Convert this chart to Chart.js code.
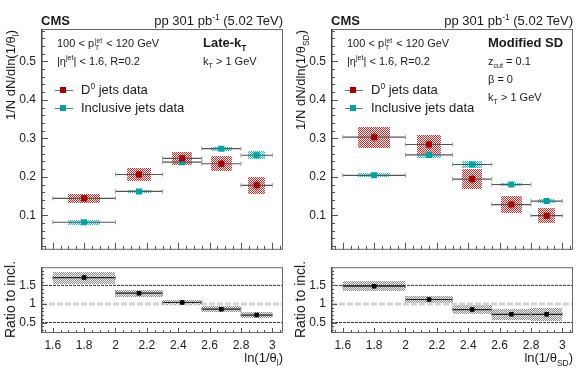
<!DOCTYPE html>
<html>
<head>
<meta charset="utf-8">
<script src="https://cdn.jsdelivr.net/npm/chart.js@4.4.0/dist/chart.umd.min.js"></script>
<style>
body{margin:0;background:#fff;width:580px;height:373px;position:relative;overflow:hidden;font-family:"Liberation Sans",Arial,sans-serif;color:#1a1a1a}
canvas{position:absolute}
.t{position:absolute;white-space:nowrap;line-height:1}
.b{font-weight:bold}
.ss{display:inline-block;vertical-align:-0.45em;font-size:62%;line-height:1.05;text-align:left;margin:0 1px}
.ss span{display:block}
sub,sup{font-size:65%;line-height:0}
.rot{transform-origin:0 0;transform:rotate(-90deg) translateX(-100%)}
.lm{position:absolute;width:6px;height:6px}
.ll{position:absolute;height:1px;width:18px;background:#777}
</style>
</head>
<body>
<canvas id="tl" width="290" height="262" style="left:0;top:0"></canvas>
<canvas id="bl" width="290" height="118" style="left:0;top:255px"></canvas>
<canvas id="tr" width="290" height="262" style="left:290px;top:0"></canvas>
<canvas id="br" width="290" height="118" style="left:290px;top:255px"></canvas>

<!-- left panel text -->
<div class="t b" style="left:41px;top:14px;font-size:13px">CMS</div>
<div class="t" style="right:297px;top:14px;font-size:13px">pp 301 pb<sup>-1</sup> (5.02 TeV)</div>
<div class="t" style="left:57px;top:37px;font-size:11px">100 &lt; p<span class="ss"><span>jet</span><span>T</span></span> &lt; 120 GeV</div>
<div class="t" style="left:57px;top:56px;font-size:11px">|η<sup>jet</sup>| &lt; 1.6, R=0.2</div>
<div class="t b" style="left:203px;top:36px;font-size:13px">Late-k<sub>T</sub></div>
<div class="t" style="left:203px;top:56px;font-size:11px">k<sub>T</sub> &gt; 1 GeV</div>
<div class="ll" style="left:55px;top:90px"></div><div class="lm" style="left:60px;top:87px;background:#a80000"></div>
<div class="t" style="left:81px;top:83px;font-size:13px">D<sup>0</sup> jets data</div>
<div class="ll" style="left:55px;top:108px"></div><div class="lm" style="left:60px;top:105px;background:#00a3a3"></div>
<div class="t" style="left:81px;top:101px;font-size:13px">Inclusive jets data</div>
<div class="t rot" style="left:4px;top:30px;font-size:13px">1/N dN/dln(1/θ<sub>l</sub>)</div>
<div class="t rot" style="left:3px;top:261px;font-size:14px">Ratio to incl.</div>
<div class="t" style="right:297px;top:351px;font-size:13px">ln(1/θ<sub>l</sub>)</div>

<!-- right panel text -->
<div class="t b" style="left:331px;top:14px;font-size:13px">CMS</div>
<div class="t" style="right:7px;top:14px;font-size:13px">pp 301 pb<sup>-1</sup> (5.02 TeV)</div>
<div class="t" style="left:347px;top:37px;font-size:11px">100 &lt; p<span class="ss"><span>jet</span><span>T</span></span> &lt; 120 GeV</div>
<div class="t" style="left:347px;top:56px;font-size:11px">|η<sup>jet</sup>| &lt; 1.6, R=0.2</div>
<div class="t b" style="left:488px;top:36px;font-size:13px">Modified SD</div>
<div class="t" style="left:488px;top:56px;font-size:11px">z<sub>cut</sub> = 0.1</div>
<div class="t" style="left:488px;top:74px;font-size:11px">β = 0</div>
<div class="t" style="left:488px;top:92px;font-size:11px">k<sub>T</sub> &gt; 1 GeV</div>
<div class="ll" style="left:345px;top:90px"></div><div class="lm" style="left:350px;top:87px;background:#a80000"></div>
<div class="t" style="left:371px;top:83px;font-size:13px">D<sup>0</sup> jets data</div>
<div class="ll" style="left:345px;top:108px"></div><div class="lm" style="left:350px;top:105px;background:#00a3a3"></div>
<div class="t" style="left:371px;top:101px;font-size:13px">Inclusive jets data</div>
<div class="t rot" style="left:294px;top:30px;font-size:13px">1/N dN/dln(1/θ<sub>SD</sub>)</div>
<div class="t rot" style="left:293px;top:261px;font-size:14px">Ratio to incl.</div>
<div class="t" style="right:7px;top:351px;font-size:13px">ln(1/θ<sub>SD</sub>)</div>

<script>
// binning in ln(1/theta)
const binEdges = [1.6, 2.0, 2.3, 2.55, 2.8, 3.0];
const binCenters = [1.8, 2.15, 2.425, 2.675, 2.9];
const xTickValues = [1.6, 1.8, 2, 2.2, 2.4, 2.6, 2.8, 3];
const yTickValues = [0.1, 0.2, 0.3, 0.4, 0.5];
const ratioTickValues = [0.5, 1, 1.5];

// late-kT
const d0Late = [0.144, 0.206, 0.248, 0.234, 0.178];
const d0LateSyst = [0.012, 0.016, 0.017, 0.019, 0.022];
const d0LateStat = [0.006, 0.008, 0.009, 0.010, 0.011];
const inclLate = [0.082, 0.162, 0.238, 0.273, 0.256];
const inclLateSyst = [0.006, 0.005, 0.008, 0.005, 0.010];
const inclLateStat = [0.002, 0.002, 0.003, 0.003, 0.003];
const ratioLate = [1.71, 1.29, 1.04, 0.86, 0.70];
const ratioLateSyst = [0.16, 0.09, 0.07, 0.08, 0.09];
const ratioLateStat = [0.06, 0.05, 0.05, 0.05, 0.05];

// modified soft drop
const d0SD = [0.303, 0.284, 0.194, 0.128, 0.099];
const d0SDSyst = [0.027, 0.024, 0.026, 0.022, 0.020];
const d0SDStat = [0.012, 0.012, 0.012, 0.010, 0.008];
const inclSD = [0.204, 0.257, 0.232, 0.180, 0.137];
const inclSDSyst = [0.005, 0.007, 0.009, 0.004, 0.005];
const inclSDStat = [0.002, 0.003, 0.003, 0.002, 0.002];
const ratioSD = [1.48, 1.12, 0.85, 0.72, 0.72];
const ratioSDSyst = [0.14, 0.10, 0.12, 0.14, 0.17];
const ratioSDStat = [0.06, 0.05, 0.05, 0.05, 0.06];

const X_MIN = 1.525, X_MAX = 3.068;
const FONT = { family: '"Liberation Sans", Arial, sans-serif', size: 12 };

// checkerboard fill like ROOT's hatch style
function hatch(ctx, on, off) {
  const c = document.createElement('canvas');
  c.width = c.height = 2;
  const g = c.getContext('2d');
  g.fillStyle = off; g.fillRect(0, 0, 2, 2);
  g.fillStyle = on; g.fillRect(0, 0, 1, 1); g.fillRect(1, 1, 1, 1);
  return ctx.createPattern(c, 'repeat');
}

// syst. boxes, drawn under the datasets
const boxPlugin = {
  id: 'boxes',
  beforeDatasetsDraw(chart, args, opts) {
    const { ctx, scales: { x, y } } = chart;
    ctx.save();
    ctx.beginPath();
    ctx.rect(chart.chartArea.left, chart.chartArea.top, chart.chartArea.width, chart.chartArea.height);
    ctx.clip();
    for (const set of opts.sets || []) {
      ctx.fillStyle = hatch(ctx, set.line, set.bg);
      set.values.forEach((v, i) => {
        const w = (binEdges[i + 1] - binEdges[i]) * set.frac / 2;
        const x0 = Math.round(x.getPixelForValue(binCenters[i] - w));
        const x1 = Math.round(x.getPixelForValue(binCenters[i] + w));
        const y0 = Math.round(y.getPixelForValue(v + set.err[i]));
        const y1 = Math.round(y.getPixelForValue(v - set.err[i]));
        ctx.fillRect(x0, y0, x1 - x0, y1 - y0);
      });
    }
    ctx.restore();
  }
};

// frame and inward ticks, ROOT style
const framePlugin = {
  id: 'frame',
  afterDraw(chart, args, o) {
    const { ctx, chartArea: a, scales: { x, y } } = chart;
    ctx.save();
    ctx.strokeStyle = '#555';
    ctx.lineWidth = 1;
    ctx.beginPath();
    for (let v = Math.ceil(x.min / 0.05) * 0.05; v <= x.max; v += 0.05) {
      const px = Math.round(x.getPixelForValue(v)) + 0.5;
      const major = Math.abs(v * 5 - Math.round(v * 5)) < 1e-6;
      ctx.moveTo(px, a.bottom);
      ctx.lineTo(px, a.bottom - (major ? o.xMaj : o.xMin));
    }
    for (let v = Math.ceil(y.min / o.yStep) * o.yStep; v <= y.max; v += o.yStep) {
      const py = Math.round(y.getPixelForValue(v)) + 0.5;
      const major = Math.abs(v / o.yMajStep - Math.round(v / o.yMajStep)) < 1e-6;
      ctx.moveTo(a.left, py);
      ctx.lineTo(a.left + (major ? o.yMaj : o.yMin), py);
    }
    ctx.stroke();
    ctx.strokeStyle = '#666';
    ctx.strokeRect(a.left + 0.5, a.top + 0.5, a.width - 1, a.height - 1);
    ctx.fillStyle = '#444';
    ctx.fillRect(a.left, a.top, 1.5, a.height);
    ctx.restore();
  }
};

function xBars(vals, color) {
  const data = [];
  vals.forEach((v, i) => {
    data.push({ x: binEdges[i], y: v }, { x: binEdges[i + 1], y: v }, { x: binEdges[i + 1], y: null });
  });
  return { data, showLine: true, borderColor: color, borderWidth: 1.2, pointStyle: 'line', rotation: 90,
    pointRadius: 2, pointBorderColor: '#999', pointBorderWidth: 1, spanGaps: false };
}
function yBars(vals, errs, color) {
  const data = [];
  vals.forEach((v, i) => {
    data.push({ x: binCenters[i], y: v - errs[i] }, { x: binCenters[i], y: v + errs[i] }, { x: binCenters[i], y: null });
  });
  return { data, showLine: true, borderColor: color, borderWidth: 1.2, pointRadius: 0, spanGaps: false };
}
function markers(vals, color, r) {
  return { data: vals.map((v, i) => ({ x: binCenters[i], y: v })), showLine: false, pointStyle: 'rect',
    pointRadius: r, backgroundColor: color, borderColor: color, borderWidth: 0 };
}
function hline(v, color, width, dash) {
  return { data: [{ x: X_MIN, y: v }, { x: X_MAX, y: v }], showLine: true, borderColor: color,
    borderWidth: width, borderDash: dash, pointRadius: 0 };
}

function yScale(min, max, ticks) {
  return {
    type: 'linear', min, max,
    afterBuildTicks: s => { s.ticks = ticks.map(v => ({ value: v })); },
    afterFit: s => { s.width = 41; },
    ticks: { font: FONT, color: '#222', padding: 5, callback: v => String(v) },
    grid: { display: false, drawTicks: false },
    border: { display: false }
  };
}

function topChart(id, d0, d0Syst, d0Stat, incl, inclSyst, inclStat) {
  return new Chart(document.getElementById(id), {
    type: 'scatter',
    data: {
      datasets: [
        markers(d0, '#a80000', 4.3),
        markers(incl, '#00a3a3', 4.3),
        yBars(d0, d0Stat, '#555'),
        yBars(incl, inclStat, '#555'),
        xBars(d0, '#555'),
        xBars(incl, '#555')
      ]
    },
    options: {
      responsive: false, animation: false,
      layout: { padding: { left: 0, top: 29, right: 7, bottom: 9 } },
      scales: {
        x: { type: 'linear', min: X_MIN, max: X_MAX, display: false },
        y: yScale(0.0104, 0.584, yTickValues)
      },
      plugins: {
        legend: { display: false }, tooltip: { enabled: false },
        boxes: { sets: [
          { values: incl, err: inclSyst, frac: 0.52, line: '#22c2c2', bg: '#e6fafa' },
          { values: d0, err: d0Syst, frac: 0.52, line: '#cf3434', bg: '#fde8e8' }
        ] },
        frame: { xMaj: 7, xMin: 4, yStep: 0.02, yMajStep: 0.1, yMaj: 7, yMin: 4 }
      }
    },
    plugins: [boxPlugin, framePlugin]
  });
}

function ratioChart(id, r, rSyst, rStat) {
  return new Chart(document.getElementById(id), {
    type: 'scatter',
    data: {
      datasets: [
        markers(r, '#000', 3.2),
        yBars(r, rStat, '#222'),
        xBars(r, '#222'),
        hline(1.5, '#333', 1, [3, 1]),
        hline(0.5, '#333', 1, [3, 1]),
        hline(1, '#d4d4d4', 3, [6, 2])
      ]
    },
    options: {
      responsive: false, animation: false,
      layout: { padding: { left: 0, top: 7, right: 7, bottom: 0 } },
      scales: {
        x: {
          type: 'linear', min: X_MIN, max: X_MAX,
          afterBuildTicks: s => { s.ticks = xTickValues.map(v => ({ value: v })); },
          afterFit: s => { s.height = 40; },
          ticks: { font: FONT, color: '#222', padding: 5, maxRotation: 0, autoSkip: false, callback: v => String(v) },
          grid: { display: false, drawTicks: false },
          border: { display: false }
        },
        y: yScale(0.218, 1.99, ratioTickValues)
      },
      plugins: {
        legend: { display: false }, tooltip: { enabled: false },
        boxes: { sets: [ { values: r, err: rSyst, frac: 1, line: '#8a8a8a', bg: '#f2f2f2' } ] },
        frame: { xMaj: 5, xMin: 3, yStep: 0.1, yMajStep: 0.5, yMaj: 6, yMin: 3 }
      }
    },
    plugins: [boxPlugin, framePlugin]
  });
}

topChart('tl', d0Late, d0LateSyst, d0LateStat, inclLate, inclLateSyst, inclLateStat);
ratioChart('bl', ratioLate, ratioLateSyst, ratioLateStat);
topChart('tr', d0SD, d0SDSyst, d0SDStat, inclSD, inclSDSyst, inclSDStat);
ratioChart('br', ratioSD, ratioSDSyst, ratioSDStat);
</script>
</body>
</html>
